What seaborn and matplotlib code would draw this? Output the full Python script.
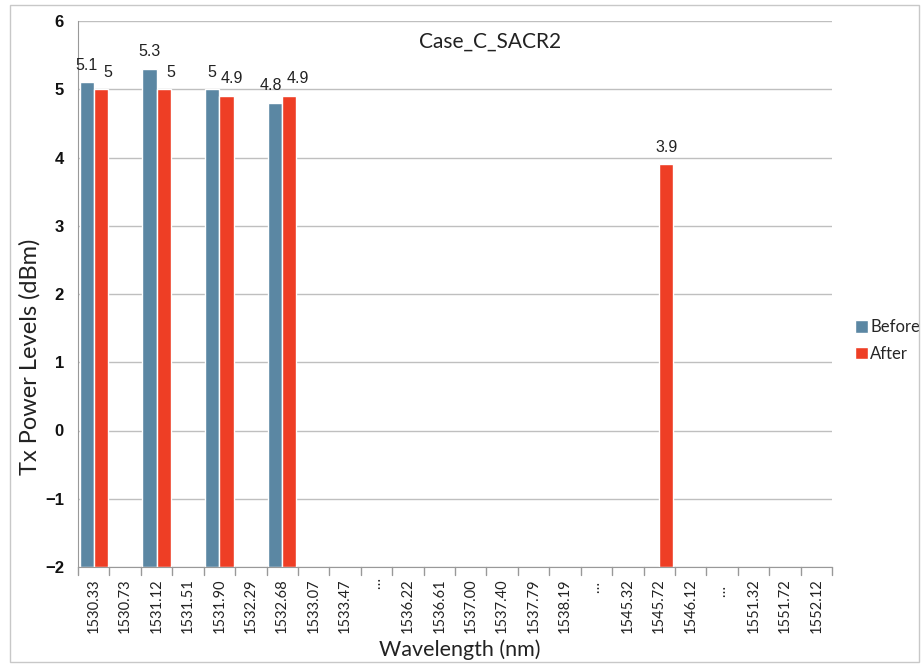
import matplotlib
matplotlib.use("Agg")
import matplotlib.pyplot as plt
import seaborn as sns
import pandas as pd
import numpy as np
from matplotlib.patches import Rectangle

categories = ["1530.33", "1530.73", "1531.12", "1531.51", "1531.90", "1532.29", "1532.68",
              "1533.07", "1533.47", "…", "1536.22", "1536.61", "1537.00", "1537.40",
              "1537.79", "1538.19", "… ", "1545.32", "1545.72", "1546.12", "…  ",
              "1551.32", "1551.72", "1552.12"]
before = {"1530.33": 5.1, "1531.12": 5.3, "1531.90": 5.0, "1532.68": 4.8}
after = {"1530.33": 5.0, "1531.12": 5.0, "1531.90": 4.9, "1532.68": 4.9, "1545.72": 3.9}
series_names = ["Before", "After"]
colors = ["#5B87A3", "#EE3E25"]
y_floor = -2

# label nudges (points) mimicking the reference's de-overlapping of data labels
label_dx = {("Before", "1532.68"): -3, ("After", "1530.33"): 5, ("After", "1531.12"): 5,
            ("After", "1531.90"): 4, ("After", "1532.68"): 6}

rows = []
for c in categories:
    rows.append({"Wavelength": c, "Series": "Before", "Value": before.get(c, np.nan)})
    rows.append({"Wavelength": c, "Series": "After", "Value": after.get(c, np.nan)})
df = pd.DataFrame(rows)

sns.set_style("white")
plt.rcParams['font.family'] = ['Lato', 'DejaVu Sans']

fig = plt.figure(figsize=(9.21, 6.67), dpi=100)
ax = fig.add_axes([78/921, 1-567/667, (832-78)/921, (567-21)/667])

sns.barplot(data=df, x="Wavelength", y="Value", hue="Series", order=categories,
            hue_order=series_names, palette=colors, width=0.9, ax=ax,
            errorbar=None, saturation=1, dodge=True, legend=True)

# bars rise from the axis floor (-2), as in the reference
for cont in ax.containers:
    for bar, v in zip(cont, cont.datavalues):
        if not np.isnan(v):
            bar.set_y(y_floor)
            bar.set_height(v - y_floor)

for cont, sname in zip(ax.containers, series_names):
    labels = ["" if np.isnan(v) else f"{v:g}" for v in cont.datavalues]
    anns = ax.bar_label(cont, labels=labels, padding=7, fontsize=11.5,
                        family=['Liberation Sans', 'DejaVu Sans'], color="#222222")
    for ann, bar in zip(anns, cont):
        idx = int(round(bar.get_x() + bar.get_width() / 2))
        dx = label_dx.get((sname, categories[idx]), 0)
        if dx:
            x0, y0 = ann.xyann
            ann.xyann = (x0 + dx, y0)

ax.set_ylim(-2, 6)
ax.set_yticks(range(-2, 7))
ax.set_xlim(-0.5, len(categories) - 0.5)
ax.yaxis.grid(True, color="#BFBFBF", linewidth=1)
ax.set_axisbelow(True)
for lbl in ax.get_yticklabels():
    lbl.set_fontweight("bold")
    lbl.set_family(['Liberation Sans', 'DejaVu Sans'])
    lbl.set_fontsize(12)
ax.tick_params(axis='y', length=3.6, color="#999999", pad=6.5, labelcolor="#111111")
ax.set_xticks(range(len(categories)))
ax.set_xticklabels(categories, rotation=90, fontsize=10.5, color="#222222")
ax.tick_params(axis='x', length=0, pad=8)
for b in np.arange(-0.5, len(categories) + 0.5, 1):
    ax.plot([b, b], [0, -0.015], transform=ax.get_xaxis_transform(), color="#999999",
            lw=1, clip_on=False)

for s in ["top", "right"]:
    ax.spines[s].set_visible(False)
ax.spines["left"].set_color("#999999")
ax.spines["bottom"].set_color("#999999")

ax.set_xlabel("Wavelength (nm)", fontsize=15.5, color="#222222")
ax.xaxis.set_label_coords((460-78)/754, (567-639)/546)
ax.set_ylabel("Tx Power Levels (dBm)", fontsize=17, color="#222222")
ax.yaxis.set_label_coords((41-78)/754, (567-357)/546)
ax.text((490-78)/754, (567-42)/546, "Case_C_SACR2", transform=ax.transAxes,
        ha="center", va="center", fontsize=15, color="#222222")

handles, labs = ax.get_legend_handles_labels()
leg = ax.legend(handles, labs, loc="center left", bbox_to_anchor=(1.01, 0.415), frameon=False,
                fontsize=12, handlelength=0.8, handleheight=0.8, handletextpad=0.15,
                labelspacing=0.65)

fig.add_artist(Rectangle((10/921, 1-662/667), (919-10)/921, (662-5)/667,
                         transform=fig.transFigure, fill=False, edgecolor="#C8C8C8", lw=1))

fig.savefig("out.png", dpi=100)
